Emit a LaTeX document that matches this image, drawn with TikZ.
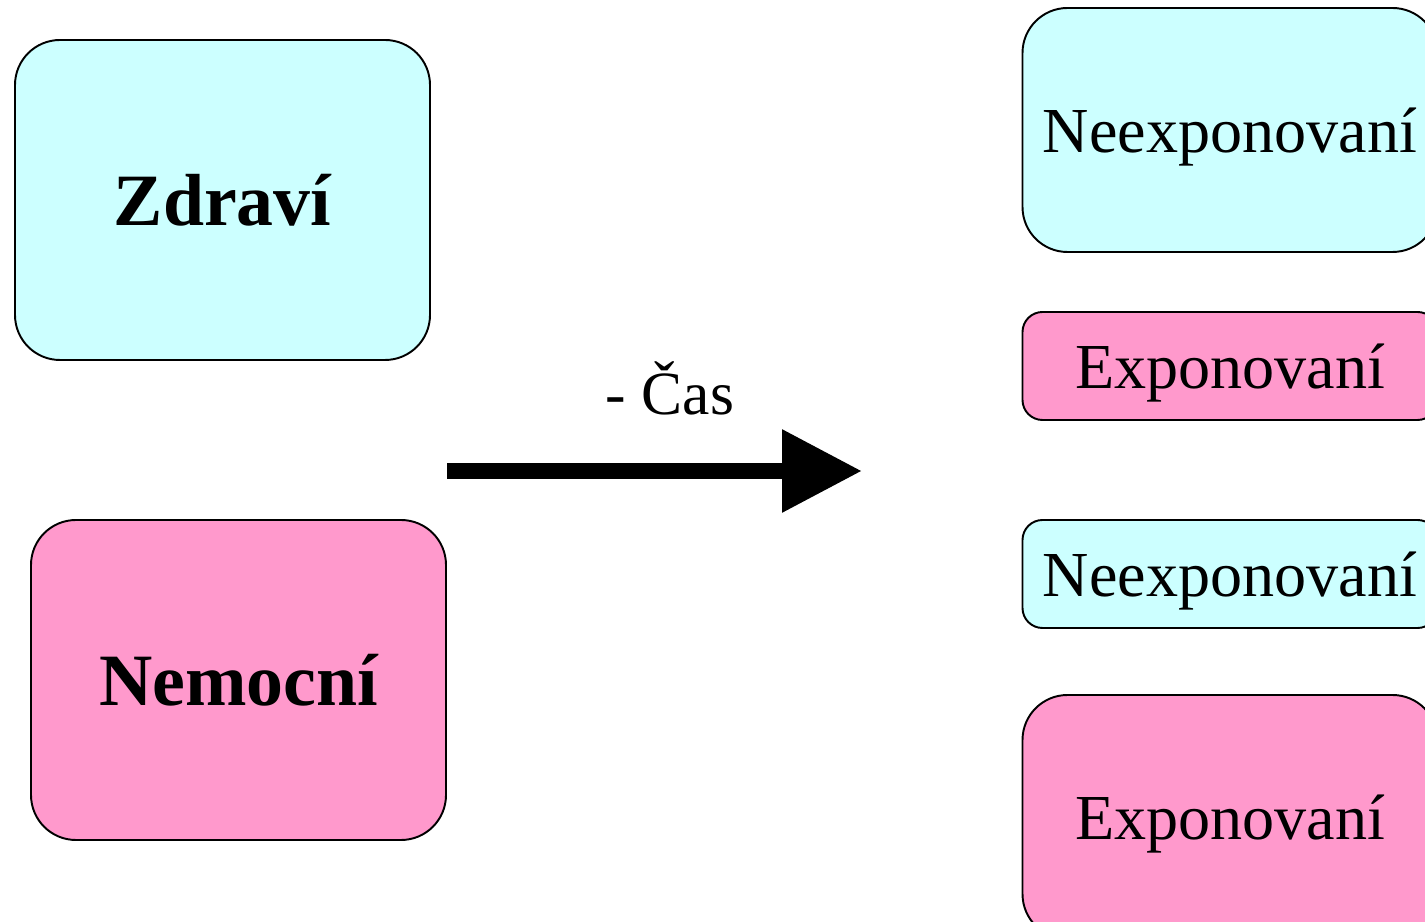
\documentclass[tikz,border=0pt]{standalone}
\usepackage{fontspec}
\setmainfont{Liberation Serif}
\usetikzlibrary{arrows.meta}
\definecolor{zdravcyan}{HTML}{CCFFFF}
\definecolor{nemocpink}{HTML}{FF99CC}
\tikzset{
  bigbox/.style={draw, line width=1.1pt, rounded corners=0.9cm, minimum width=8.3cm, minimum height=6.4cm, font=\fontsize{42}{48}\selectfont\bfseries},
  grpbox/.style={draw, line width=1.1pt, rounded corners=0.9cm, minimum width=8.3cm, minimum height=4.88cm, text depth=0pt, font=\fontsize{36.5}{42}\selectfont},
  smallbox/.style={draw, line width=1.1pt, rounded corners=0.4cm, minimum width=8.3cm, minimum height=2.16cm, text depth=0pt, font=\fontsize{36.5}{42}\selectfont}
}
\begin{document}
\begin{tikzpicture}
    \useasboundingbox (0, 0) rectangle (28.5, 18.42);
    \clip (0, 0) rectangle (28.5, 18.42);
    \node[bigbox, fill=zdravcyan] (zdravi) at (4.45, 14.42) {Zdraví};
    \node[bigbox, fill=nemocpink] (nemocni) at (4.77, 4.82) {Nemocní};
    \node[grpbox, fill=zdravcyan] (neexp1) at (24.6, 15.82) {Neexponovaní};
    \node[smallbox, fill=nemocpink] (exp1) at (24.6, 11.1) {Exponovaní};
    \node[smallbox, fill=zdravcyan] (neexp2) at (24.6, 6.94) {Neexponovaní};
    \node[grpbox, fill=nemocpink] (exp2) at (24.6, 2.08) {Exponovaní};
    \coordinate (t0) at (8.94, 9.0);
    \coordinate (t1) at (17.24, 9.0);
    \draw[line width=9pt, -{Triangle[length=1.6cm, width=1.58cm]}] (t0) -- (t1);
    \node[font=\fontsize{35}{40}\selectfont] (cas) at (13.4, 10.66) {- Čas};
  \end{tikzpicture}
\end{document}
